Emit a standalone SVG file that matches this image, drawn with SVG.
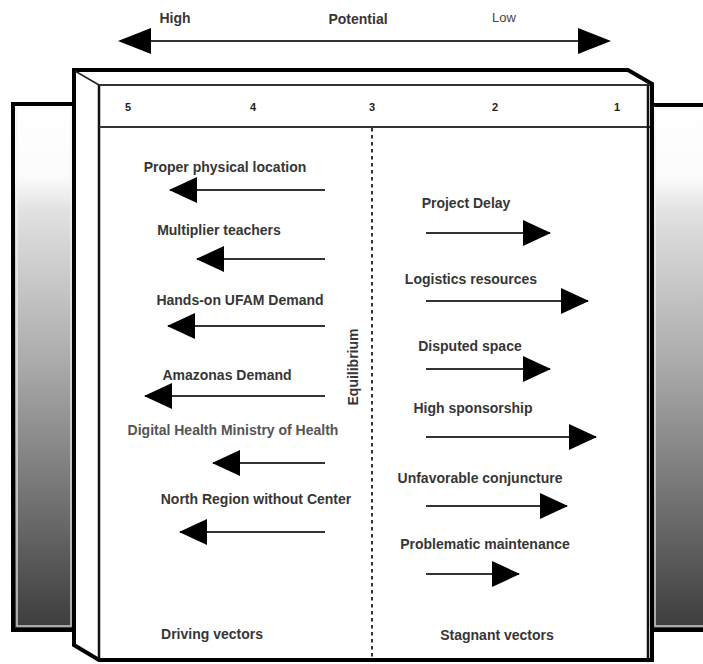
<svg xmlns="http://www.w3.org/2000/svg" width="703" height="664" viewBox="0 0 703 664">
<defs>
  <linearGradient id="panelGrad" x1="0" y1="0" x2="0" y2="1">
    <stop offset="0" stop-color="#ffffff"/>
    <stop offset="0.14" stop-color="#fbfbfb"/>
    <stop offset="0.2" stop-color="#e2e2e2"/>
    <stop offset="0.5" stop-color="#a9a9a9"/>
    <stop offset="1" stop-color="#3c3c3c"/>
  </linearGradient>
  <marker id="ah" viewBox="0 0 28 26" refX="27" refY="13" markerWidth="28" markerHeight="26" markerUnits="userSpaceOnUse" orient="auto">
    <path d="M0,0 L28,13 L0,26 Z" fill="#000"/>
  </marker>
</defs>
<style>
  .lbl { font-family: "Liberation Sans", Arial, sans-serif; font-weight: bold; font-size: 14px; fill: #363636; text-anchor: middle; }
  .num { font-family: "Liberation Sans", Arial, sans-serif; font-weight: bold; font-size: 11px; fill: #222; text-anchor: middle; }
  .vec { stroke: #333; stroke-width: 2.2; fill: none; marker-end: url(#ah); }
  .panel { fill: url(#panelGrad); stroke: #000; stroke-width: 4; }
  .panelIn { fill: none; stroke: #f2f2f2; stroke-width: 1.5; opacity: 0.8; }
</style>
<rect width="703" height="664" fill="#ffffff"/>

<!-- Potential scale -->
<g id="potential-scale">
  <text class="lbl" x="175" y="23">High</text>
  <text class="lbl" x="358" y="24">Potential</text>
  <text x="504" y="22" font-family="Liberation Sans, Arial, sans-serif" font-size="13" fill="#444" text-anchor="middle">Low</text>
  <line x1="135" y1="41" x2="595" y2="41" stroke="#333" stroke-width="2.2"/>
  <path d="M118,41 L151,28 L151,54 Z" fill="#000"/>
  <path d="M611,41 L578,28 L578,54 Z" fill="#000"/>
</g>

<!-- Back panels -->
<g id="back-left">
  <rect class="panel" x="13" y="104" width="62" height="526"/>
  <rect class="panelIn" x="17" y="108" width="54" height="518"/>
</g>
<g id="back-right">
  <rect class="panel" x="651" y="105" width="62" height="525"/>
  <rect class="panelIn" x="655" y="109" width="54" height="517"/>
</g>

<!-- Front frame -->
<g id="frame">
  <path d="M74,70 L628,70 L652,84 L652,660 L99,660 L74,645 Z" fill="#fff" stroke="#000" stroke-width="4" stroke-linejoin="miter"/>
  <line x1="75" y1="71" x2="99" y2="85" stroke="#222" stroke-width="1.5"/>
  <line x1="99" y1="85" x2="99" y2="659" stroke="#111" stroke-width="2.5"/>
  <line x1="99" y1="85" x2="650" y2="85" stroke="#333" stroke-width="2"/>
  <line x1="99" y1="127" x2="650" y2="127" stroke="#333" stroke-width="2"/>
  <line x1="648" y1="85" x2="648" y2="659" stroke="#111" stroke-width="2.5"/>
</g>

<!-- Scale numbers -->
<g id="scale-numbers">
  <text class="num" x="128" y="111">5</text>
  <text class="num" x="253" y="111">4</text>
  <text class="num" x="372" y="111">3</text>
  <text class="num" x="495" y="111">2</text>
  <text class="num" x="617" y="111">1</text>
</g>

<!-- Equilibrium -->
<g id="equilibrium">
  <line x1="372" y1="128" x2="372" y2="658" stroke="#333" stroke-width="2" stroke-dasharray="3.5 3.5"/>
  <text class="lbl" transform="translate(358,367) rotate(-90)" font-size="13.5">Equilibrium</text>
</g>

<!-- Driving vectors (left) -->
<g id="driving-1"><text class="lbl" x="225" y="172">Proper physical location</text></g>
<g id="driving-2"><text class="lbl" x="219" y="235">Multiplier teachers</text></g>
<g id="driving-3"><text class="lbl" x="240" y="305">Hands-on UFAM Demand</text></g>
<g id="driving-4"><text class="lbl" x="227" y="380">Amazonas Demand</text></g>
<g id="driving-5"><text class="lbl" x="233" y="435" style="fill:#555">Digital Health Ministry of Health</text></g>
<g id="driving-6"><text class="lbl" x="256" y="504">North Region without Center</text></g>
<g id="driving-title"><text class="lbl" x="212" y="639">Driving vectors</text></g>

<!-- Stagnant vectors (right) -->
<g id="stagnant-1"><text class="lbl" x="466" y="208">Project Delay</text></g>
<g id="stagnant-2"><text class="lbl" x="471" y="284">Logistics resources</text></g>
<g id="stagnant-3"><text class="lbl" x="470" y="351">Disputed space</text></g>
<g id="stagnant-4"><text class="lbl" x="473" y="413">High sponsorship</text></g>
<g id="stagnant-5"><text class="lbl" x="480" y="483">Unfavorable conjuncture</text></g>
<g id="stagnant-6"><text class="lbl" x="485" y="549">Problematic maintenance</text></g>
<g id="stagnant-title"><text class="lbl" x="497" y="640">Stagnant vectors</text></g>

<!-- Connectors -->
<g id="connectors">
  <line class="vec" x1="325" y1="190" x2="170" y2="190"/>
  <line class="vec" x1="325" y1="259" x2="197" y2="259"/>
  <line class="vec" x1="325" y1="326" x2="168" y2="326"/>
  <line class="vec" x1="325" y1="396" x2="145" y2="396"/>
  <line class="vec" x1="325" y1="463" x2="213" y2="463"/>
  <line class="vec" x1="325" y1="532" x2="180" y2="532"/>

  <line class="vec" x1="426" y1="233" x2="550" y2="233"/>
  <line class="vec" x1="426" y1="301" x2="588" y2="301"/>
  <line class="vec" x1="426" y1="369" x2="550" y2="369"/>
  <line class="vec" x1="426" y1="437" x2="596" y2="437"/>
  <line class="vec" x1="426" y1="506" x2="567" y2="506"/>
  <line class="vec" x1="426" y1="574" x2="519" y2="574"/>
</g>
</svg>
